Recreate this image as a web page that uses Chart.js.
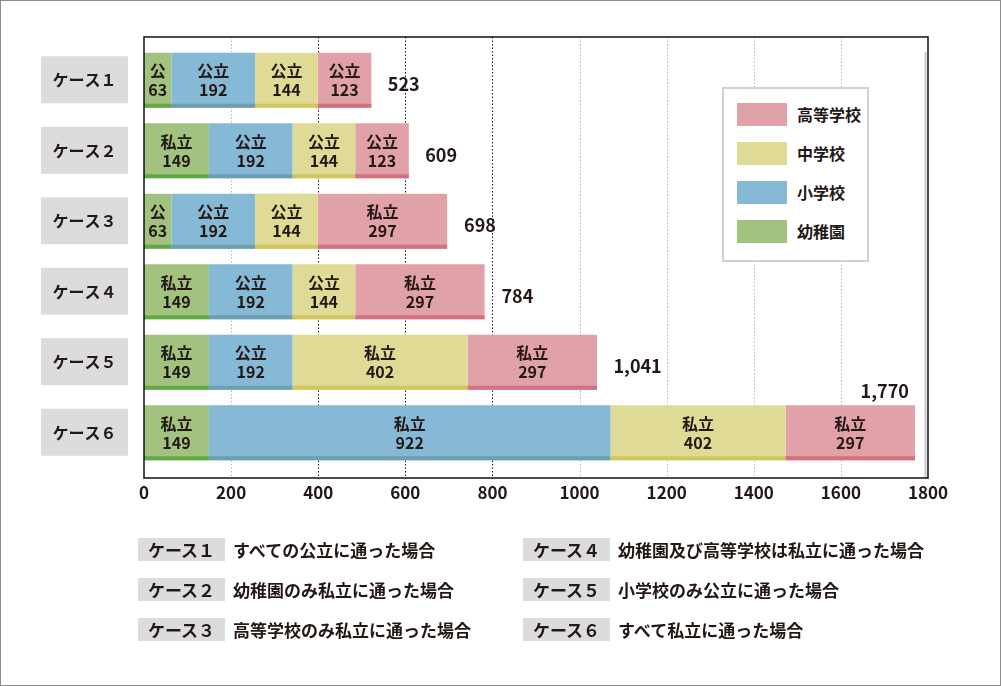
<!DOCTYPE html>
<html lang="ja">
<head>
<meta charset="utf-8">
<title>ケース別の学習費</title>
<script src="https://cdn.jsdelivr.net/npm/chart.js@4.4.1/dist/chart.umd.min.js"></script>
<style>
  body { margin: 0; background: #fff; font-family: "Noto Sans CJK JP", sans-serif; color: #231815; }
  #wrap { position: relative; width: 1001px; height: 686px; overflow: hidden; }
  #frame { position: absolute; left: 0; top: 0; width: 999px; height: 684px; border: 1px solid #8c8c8c; pointer-events: none; }
  canvas { position: absolute; left: 0; top: 0; }
  .legend { position: absolute; left: 722px; top: 87px; width: 143px; height: 171px; border: 2px solid #d2d2d2; background: #fff; }
  .legend .item { position: absolute; left: 13px; height: 23px; }
  .legend .sw { position: absolute; left: 0; top: 0; width: 50px; height: 23px; }
  .legend .lab { position: absolute; left: 60px; top: 0; line-height: 23px; font-size: 16px; font-weight: bold; white-space: nowrap; }
  .key { position: absolute; height: 23px; font-size: 17px; white-space: nowrap; }
  .key .box { position: absolute; left: 0; top: 0; width: 87px; height: 23px; line-height: 23px; background: #dcdcdc; text-align: center; font-weight: bold; }
  .key .txt { position: absolute; left: 95px; top: 0; line-height: 23px; font-weight: bold; }
</style>
</head>
<body>
<div id="wrap">
  <canvas id="grafico" width="1001" height="686"></canvas>
  <div class="legend" id="legenda"></div>
  <div id="chiave"></div>
  <div id="frame"></div>
</div>
<script>
// categorie
const cases = ['ケース１', 'ケース２', 'ケース３', 'ケース４', 'ケース５', 'ケース６'];
// valori (千円)
const youchien = [63, 149, 63, 149, 149, 149];
const shogakko = [192, 192, 192, 192, 192, 922];
const chugakko = [144, 144, 144, 144, 402, 402];
const kotogakko = [123, 123, 297, 297, 297, 297];
// tipo di scuola per ogni segmento
const youchienTipo = ['公', '私立', '公', '私立', '私立', '私立'];
const shogakkoTipo = ['公立', '公立', '公立', '公立', '公立', '私立'];
const chugakkoTipo = ['公立', '公立', '公立', '公立', '私立', '私立'];
const kotogakkoTipo = ['公立', '公立', '私立', '私立', '私立', '私立'];
// totali come riportati nel grafico
const totals = [523, 609, 698, 784, 1041, 1770];
const xTicks = [0, 200, 400, 600, 800, 1000, 1200, 1400, 1600, 1800];
const darkGrid = [400, 600, 800];
const caseNotes = [
    'すべての公立に通った場合',
    '幼稚園のみ私立に通った場合',
    '高等学校のみ私立に通った場合',
    '幼稚園及び高等学校は私立に通った場合',
    '小学校のみ公立に通った場合',
    'すべて私立に通った場合'
];

const FONT = '"Noto Sans CJK JP", sans-serif';
const TEXT = '#231815';

const series = [
    { label: '幼稚園', data: youchien, tipo: youchienTipo, color: '#a2c37f', stripe: '#62a946' },
    { label: '小学校', data: shogakko, tipo: shogakkoTipo, color: '#85b9d5', stripe: '#6d9fb2' },
    { label: '中学校', data: chugakko, tipo: chugakkoTipo, color: '#dfdb97', stripe: '#d1c65b' },
    { label: '高等学校', data: kotogakko, tipo: kotogakkoTipo, color: '#e1a1a9', stripe: '#d57081' }
];

const decorPlugin = {
    id: 'decor',
    beforeDatasetsDraw(chart) {
        const { ctx, chartArea: a, scales: { x, y } } = chart;
        const top = a.top - 8, bottom = a.bottom + 10;
        // griglia tratteggiata
        xTicks.forEach(v => {
            if (v === 0 || v === 1800) return;
            const px = Math.round(x.getPixelForValue(v)) + 0.5;
            ctx.save();
            ctx.strokeStyle = darkGrid.includes(v) ? '#231815' : '#b8b8b8';
            ctx.lineWidth = 1;
            ctx.setLineDash([1.5, 2]);
            ctx.beginPath();
            ctx.moveTo(px, top);
            ctx.lineTo(px, bottom);
            ctx.stroke();
            ctx.restore();
        });
        // etichette dei casi
        cases.forEach((c, i) => {
            const py = y.getPixelForValue(i);
            ctx.save();
            ctx.fillStyle = '#dcdcdc';
            ctx.fillRect(41, py - 24, 87, 47);
            ctx.fillStyle = TEXT;
            ctx.font = 'bold 16px ' + FONT;
            ctx.textAlign = 'center';
            ctx.textBaseline = 'middle';
            ctx.fillText(c, 84.5, py);
            ctx.restore();
        });
    },
    afterDatasetsDraw(chart) {
        const { ctx, chartArea: a, scales: { x, y } } = chart;
        // strisce scure e testi dei segmenti
        chart.data.datasets.forEach((ds, di) => {
            const meta = chart.getDatasetMeta(di);
            meta.data.forEach((el, i) => {
                const p = el.getProps(['x', 'y', 'base', 'height'], true);
                const left = Math.min(p.x, p.base), w = Math.abs(p.x - p.base);
                ctx.save();
                ctx.fillStyle = series[di].stripe;
                ctx.fillRect(left, p.y + p.height / 2 - 4, w, 4);
                ctx.fillStyle = TEXT;
                ctx.font = 'bold 16px ' + FONT;
                ctx.textAlign = 'center';
                ctx.textBaseline = 'middle';
                const cx = left + w / 2;
                ctx.fillText(series[di].tipo[i], cx, p.y - 9);
                ctx.fillText(String(ds.data[i]), cx, p.y + 10);
                ctx.restore();
            });
        });
        // totali
        totals.forEach((t, i) => {
            const end = x.getPixelForValue(t);
            const py = y.getPixelForValue(i);
            ctx.save();
            ctx.fillStyle = TEXT;
            ctx.font = 'bold 18px ' + FONT;
            ctx.textBaseline = 'middle';
            const txt = t.toLocaleString('en-US');
            if (end + 16 + ctx.measureText(txt).width > a.right) {
                ctx.textAlign = 'right';
                ctx.fillText(txt, end - 6, py - 42);
            } else {
                ctx.textAlign = 'left';
                ctx.fillText(txt, end + 16, py + 4);
            }
            ctx.restore();
        });
        // cornice
        const top = a.top - 8, bottom = a.bottom + 10;
        ctx.save();
        ctx.strokeStyle = '#c8c8c8';
        ctx.lineWidth = 2;
        ctx.beginPath();
        ctx.moveTo(a.right - 2.5, top + 15);
        ctx.lineTo(a.right - 2.5, bottom);
        ctx.stroke();
        ctx.strokeStyle = '#111';
        ctx.lineWidth = 1.5;
        ctx.strokeRect(a.left, top, a.right - a.left, bottom - top);
        ctx.restore();
    }
};

const canvas = document.getElementById('grafico');
new Chart(canvas, {
    type: 'bar',
    data: {
        labels: cases,
        datasets: series.map(s => ({
            label: s.label,
            data: s.data,
            backgroundColor: s.color,
            borderWidth: 0,
            categoryPercentage: 1,
            barPercentage: 0.78
        }))
    },
    options: {
        indexAxis: 'y',
        responsive: false,
        animation: false,
        devicePixelRatio: 1,
        layout: { padding: { left: 144, right: 73, top: 45, bottom: 178 } },
        scales: {
            x: {
                stacked: true,
                min: 0,
                max: 1800,
                afterBuildTicks(scale) { scale.ticks = xTicks.map(v => ({ value: v })); },
                afterFit(scale) { scale.height = 40; },
                grid: { display: false, drawTicks: false },
                border: { display: false },
                ticks: {
                    color: TEXT,
                    padding: 14,
                    font: { family: FONT, size: 17, weight: 'bold' },
                    callback: v => String(v)
                }
            },
            y: {
                stacked: true,
                afterFit(scale) { scale.width = 0; },
                grid: { display: false, drawTicks: false },
                border: { display: false },
                ticks: { display: false }
            }
        },
        plugins: {
            legend: { display: false },
            tooltip: { enabled: false }
        }
    },
    plugins: [decorPlugin]
});

// legenda
const legenda = document.getElementById('legenda');
series.slice().reverse().forEach((s, i) => {
    const item = document.createElement('div');
    item.className = 'item';
    item.style.top = (14 + i * 39) + 'px';
    item.innerHTML = '<div class="sw" style="background:' + s.color + '"></div><div class="lab">' + s.label + '</div>';
    legenda.appendChild(item);
});

// chiave dei casi
const chiave = document.getElementById('chiave');
caseNotes.forEach((note, i) => {
    const col = Math.floor(i / 3), row = i % 3;
    const k = document.createElement('div');
    k.className = 'key';
    k.style.left = (col === 0 ? 138 : 523) + 'px';
    k.style.top = (538 + row * 40) + 'px';
    k.innerHTML = '<div class="box">' + cases[i] + '</div><div class="txt">' + note + '</div>';
    chiave.appendChild(k);
});
</script>
</body>
</html>
